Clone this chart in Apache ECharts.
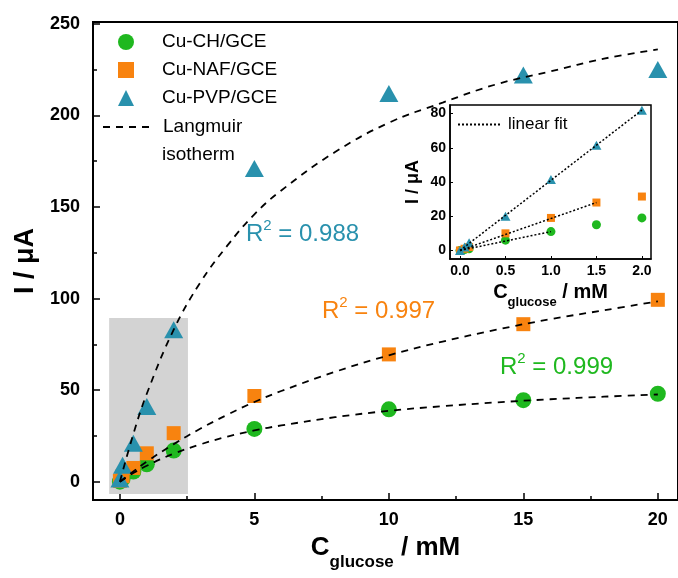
<!DOCTYPE html>
<html>
<head>
<meta charset="utf-8">
<script src="https://cdn.jsdelivr.net/npm/echarts@6/dist/echarts.min.js"></script>
<style>
  html, body { margin: 0; padding: 0; background: #fff; }
  #chart { width: 678px; height: 578px; }
</style>
</head>
<body>
<div id="chart"></div>
<script>
// main plot, measured points (mM, uA)
const concMain = [0, 0.1, 0.5, 1, 2, 5, 10, 15, 20];
const chMain = [0, 1.5, 5.5, 9.5, 17, 28.8, 39.5, 44.5, 48];
const nafMain = [0.5, 3, 7.5, 15.5, 26.5, 46.8, 69.5, 86, 99.3];
const pvpMain = [1.5, 9, 21, 41, 83, 171, 212, 222, 225];

// Langmuir isotherm curves
const concCurve = [0, 0.5, 1, 2, 3, 4, 5, 6, 8, 10, 12, 14, 16, 18, 20];
const chCurve = [0, 4.7, 8.7, 15.3, 20.4, 24.6, 28, 30.7, 35.2, 38.7, 41.2, 43.3, 45, 46.4, 47.6];
const nafCurve = [0, 5.6, 11, 20.5, 29, 36.6, 43.5, 49.5, 60, 69, 76.5, 83, 88.7, 93.6, 98.5];
const pvpCurve = [0, 26, 48, 83, 109, 129, 146, 159, 180, 196, 207, 217, 224, 231, 236];

// inset, low concentration range
const concInset = [0, 0.05, 0.1, 0.5, 1.0, 1.5, 2.0];
const chInset = [0, 0.5, 1, 6, 11, 15, 19];
const nafInset = [0, 1, 2, 10, 19, 28, 31.5];
const pvpInset = [0, 2, 4.5, 20, 41.5, 61.5, 82];

// linear fits in the inset (end points)
const chFit = [[0, 0], [1, 11]];
const nafFit = [[0, 0], [1.5, 28]];
const pvpFit = [[0, 0], [2, 82]];

// r squared labels
const r2Labels = ['0.988', '0.997', '0.999'];

const green = '#1fb81f';
const orange = '#f8830f';
const teal = '#2991ad';
const font = '"Liberation Sans", Arial, sans-serif';

const pairs = (xs, ys) => xs.map((x, i) => [x, ys[i]]);

const chart = echarts.init(document.getElementById('chart'));

const mainAxisLabel = { fontSize: 18, fontWeight: 'bold', color: '#000', fontFamily: font, showMinLabel: false };

const subName = (cSize, sSize, pad) => ({
    c: { fontSize: cSize, fontWeight: 'bold', fontFamily: font, color: '#000', verticalAlign: 'top', padding: [0, 0, pad, 0] },
    s: { fontSize: sSize, fontWeight: 'bold', fontFamily: font, color: '#000', verticalAlign: 'bottom' },
});

const r2Text = (value, color) => ({
    text: '{a|R}{s|2}{a| = ' + value + '}',
    rich: {
        a: { fontSize: 24, fontFamily: font, fill: color, verticalAlign: 'bottom', padding: [4, 0, 0, 0] },
        s: { fontSize: 15, fontFamily: font, fill: color, verticalAlign: 'top' },
    },
});

const legendText = (pad) => ({ fontSize: 19, lineHeight: 20, color: '#000', fontFamily: font, padding: [0, 0, 0, pad] });

function scatter(name, data, symbol, size, color, axis) {
    return {
        name: name,
        type: 'scatter',
        data: data,
        symbol: symbol,
        symbolSize: size,
        itemStyle: { color: color, opacity: 1 },
        xAxisIndex: axis,
        yAxisIndex: axis,
        z: 3,
        silent: true,
    };
}

function curve(name, data, axis, dash, width) {
    return {
        name: name,
        type: 'line',
        data: data,
        smooth: axis === 0 ? 0.4 : false,
        symbol: 'none',
        lineStyle: { color: '#000', width: width, type: dash },
        itemStyle: { color: '#000', opacity: 0 },
        xAxisIndex: axis,
        yAxisIndex: axis,
        z: 4,
        silent: true,
    };
}

chart.setOption({
    animation: false,
    backgroundColor: '#fff',
    grid: [
        { left: 93, top: 22, right: 0, bottom: 78, show: true, borderColor: '#000', borderWidth: 2,
          backgroundColor: 'transparent', containLabel: false, outerBoundsMode: 'none' },
        { left: 450, top: 105, width: 201, height: 154, show: true, borderColor: '#000', borderWidth: 1.5,
          backgroundColor: '#fff', containLabel: false, outerBoundsMode: 'none', z: 5 },
    ],
    xAxis: [
        {
            gridIndex: 0, type: 'value', min: -1, max: 20.75, splitNumber: 5,
            axisLine: { onZero: false, lineStyle: { color: '#000', width: 2 } },
            axisTick: { inside: true, length: 7, lineStyle: { color: '#000', width: 1.5 } },
            minorTick: { show: true, splitNumber: 2, length: 4, lineStyle: { color: '#000', width: 1.5 } },
            splitLine: { show: false },
            axisLabel: Object.assign({ margin: 11, showMaxLabel: false }, mainAxisLabel),
            name: '{c|C}{s|glucose}{c| / mM}',
            nameLocation: 'middle',
            nameGap: 35,
            nameTextStyle: { rich: subName(26, 17, 10) },
        },
        {
            gridIndex: 1, type: 'value', min: -0.11, max: 2.1, splitNumber: 5,
            axisLine: { onZero: false, lineStyle: { color: '#000', width: 1.5 } },
            axisTick: { inside: true, length: 3, lineStyle: { color: '#000' } },
            splitLine: { show: false },
            axisLabel: { fontSize: 14, fontWeight: 'bold', color: '#000', fontFamily: font, margin: 5,
                showMinLabel: false, showMaxLabel: false, formatter: (v) => v.toFixed(1) },
            name: '{c|C}{s|glucose}{c| / mM}',
            nameLocation: 'middle',
            nameGap: 23,
            nameTextStyle: { rich: subName(20, 13, 7) },
            z: 6,
        },
    ],
    yAxis: [
        {
            gridIndex: 0, type: 'value', min: -10, max: 251, splitNumber: 5,
            axisLine: { onZero: false, lineStyle: { color: '#000', width: 2 } },
            axisTick: { inside: true, length: 7, lineStyle: { color: '#000', width: 1.5 } },
            minorTick: { show: true, splitNumber: 2, length: 4, lineStyle: { color: '#000', width: 1.5 } },
            splitLine: { show: false },
            axisLabel: Object.assign({ margin: 13, showMaxLabel: false }, mainAxisLabel),
            name: 'I / μA',
            nameLocation: 'middle',
            nameGap: 51,
            nameTextStyle: { fontSize: 27, fontWeight: 'bold', color: '#000', fontFamily: font },
        },
        {
            gridIndex: 1, type: 'value', min: -5, max: 85, splitNumber: 5,
            axisLine: { onZero: false, lineStyle: { color: '#000', width: 1.5 } },
            axisTick: { inside: true, length: 3, lineStyle: { color: '#000' } },
            splitLine: { show: false },
            axisLabel: { fontSize: 14, fontWeight: 'bold', color: '#000', fontFamily: font, margin: 4,
                showMinLabel: false, showMaxLabel: false },
            name: 'I / μA',
            nameLocation: 'middle',
            nameGap: 28,
            nameTextStyle: { fontSize: 18, fontWeight: 'bold', color: '#000', fontFamily: font },
            z: 6,
        },
    ],
    legend: [
        {
            data: ['Cu-CH/GCE', 'Cu-NAF/GCE', 'Cu-PVP/GCE'],
            orient: 'vertical', left: 113, top: 27,
            itemWidth: 16, itemHeight: 16, itemGap: 8,
            selectedMode: false,
            textStyle: legendText(23),
        },
        {
            data: [{ name: 'Langmuir', itemStyle: { opacity: 0 } }],
            orient: 'vertical', left: 97, top: 112,
            itemWidth: 48, itemHeight: 16,
            selectedMode: false,
            textStyle: legendText(7),
        },
        {
            data: [{ name: 'linear fit', itemStyle: { opacity: 0 } }],
            orient: 'vertical', left: 452, top: 111,
            itemWidth: 42, itemHeight: 10, selectedMode: false,
            textStyle: { fontSize: 17, color: '#000', fontFamily: font, padding: [0, 0, 0, 3] },
            z: 7,
        },
    ],
    graphic: [
        { type: 'text', left: 162, top: 145, z: 10,
          style: { text: 'isotherm', fontSize: 19, fontFamily: font, fill: '#000' } },
        { type: 'text', left: 246, top: 218, z: 10, style: r2Text(r2Labels[0], teal) },
        { type: 'text', left: 322, top: 295, z: 10, style: r2Text(r2Labels[1], orange) },
        { type: 'text', left: 500, top: 351, z: 10, style: r2Text(r2Labels[2], green) },
    ],
    series: [
        {
            name: 'box', type: 'scatter', data: [], xAxisIndex: 0, yAxisIndex: 0, z: 1, silent: true,
            markArea: {
                silent: true,
                itemStyle: { color: '#d3d3d3' },
                data: [[{ coord: [-0.4, -6.7] }, { coord: [2.53, 89.4] }]],
            },
        },
        scatter('Cu-CH/GCE', pairs(concMain, chMain), 'circle', 16, green, 0),
        scatter('Cu-NAF/GCE', pairs(concMain, nafMain), 'rect', 14, orange, 0),
        scatter('Cu-PVP/GCE', pairs(concMain, pvpMain), 'triangle', [19, 17], teal, 0),
        curve('Langmuir', pairs(concCurve, chCurve), 0, [7, 6], 1.8),
        curve('Langmuir', pairs(concCurve, nafCurve), 0, [7, 6], 1.8),
        curve('Langmuir', pairs(concCurve, pvpCurve), 0, [7, 6], 1.8),
        Object.assign(scatter('CH inset', pairs(concInset, chInset), 'circle', 9, green, 1), { z: 8 }),
        Object.assign(scatter('NAF inset', pairs(concInset, nafInset), 'rect', 8, orange, 1), { z: 8 }),
        Object.assign(scatter('PVP inset', pairs(concInset, pvpInset), 'triangle', [10, 9], teal, 1), { z: 8 }),
        Object.assign(curve('linear fit', chFit, 1, [2, 2], 1.5), { z: 9 }),
        Object.assign(curve('linear fit', nafFit, 1, [2, 2], 1.5), { z: 9 }),
        Object.assign(curve('linear fit', pvpFit, 1, [2, 2], 1.5), { z: 9 }),
    ],
});
</script>
</body>
</html>
